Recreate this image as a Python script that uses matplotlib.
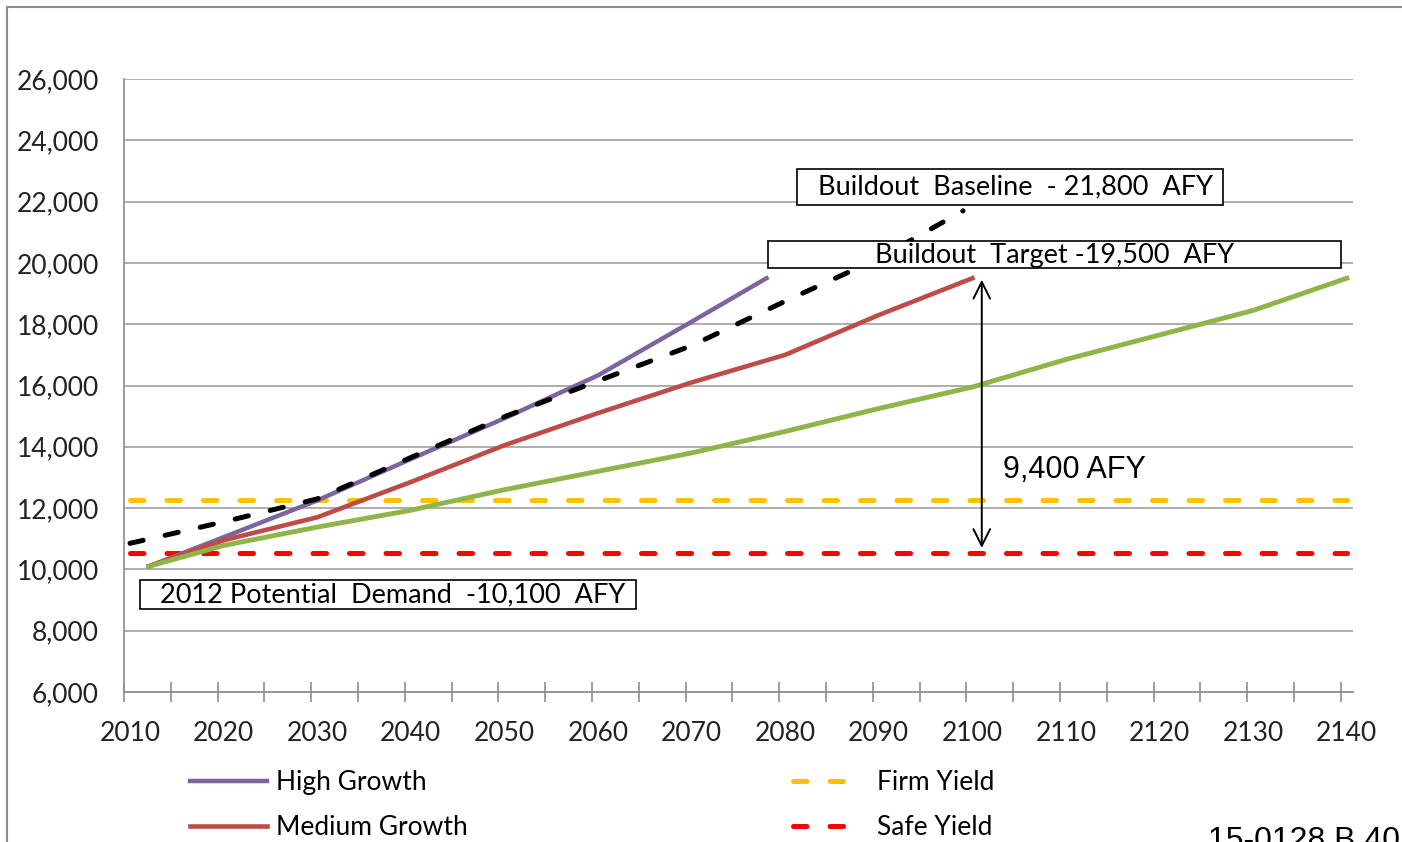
import numpy as np
import matplotlib
matplotlib.use("Agg")
import matplotlib.pyplot as plt
from matplotlib.patches import Rectangle
from matplotlib.ticker import FixedLocator, FuncFormatter

plt.rcParams['font.family'] = ['Lato', 'DejaVu Sans']

# demand projections (AFY)
high_years = [2012, 2020, 2030, 2040, 2050, 2060, 2070, 2078]
high_vals = [10100, 11050, 12250, 13600, 14930, 16330, 18080, 19500]

med_years = [2012, 2020, 2030, 2040, 2050, 2060, 2070, 2080, 2090, 2100]
med_vals = [10100, 10950, 11700, 12850, 14050, 15100, 16100, 17000, 18300, 19500]

low_years = [2012, 2020, 2030, 2040, 2050, 2060, 2070, 2080, 2090, 2100,
             2110, 2120, 2130, 2140]
low_vals = [10100, 10780, 11380, 11930, 12600, 13200, 13800, 14500, 15250,
            15950, 16850, 17650, 18450, 19500]

base_years = [2010, 2020, 2030, 2040, 2050, 2060, 2070, 2080, 2090, 2099]
base_vals = [10850, 11550, 12300, 13650, 14980, 16150, 17300, 18750, 20150, 21700]

yield_years = [2010, 2140]
firm_yield = 12250
safe_yield = 10550

gap_year = 2101
gap_low, gap_high = 10700, 19450

x_min, x_max = 2009.36, 2140.66
y_min, y_max = 6000, 26000

fig = plt.figure(figsize=(14.02, 8.42), dpi=100)
ax = fig.add_axes([124/1402, 150/842, 1229/1402, 613/842])

ax.plot(high_years, high_vals, color='#7E649E', lw=3.2, zorder=3, label='High Growth')
ax.plot(med_years, med_vals, color='#BE4B48', lw=3.3, zorder=3, label='Medium Growth')
ax.plot(low_years, low_vals, color='#8FB447', lw=3.5, zorder=3, label='Low Growth')
ax.plot(base_years, base_vals, color='black', lw=3.6, zorder=3,
        dashes=(2.7, 4.5), dash_capstyle='round', label='Buildout Baseline')
ax.plot(yield_years, [firm_yield] * 2, color='#FFC000', lw=3.6, zorder=2,
        dashes=(2.7, 4.6), dash_capstyle='round', label='Firm Yield')
ax.plot(yield_years, [safe_yield] * 2, color='#FF0000', lw=3.6, zorder=2,
        dashes=(2.7, 4.6), dash_capstyle='round', label='Safe Yield')

ax.annotate('', xy=(gap_year, gap_high), xytext=(gap_year, gap_low),
            arrowprops=dict(arrowstyle='<->', color='black', lw=1.4,
                            mutation_scale=30, shrinkA=0, shrinkB=0), zorder=5)
ax.text(2103.3, 13240, '9,400 AFY', fontsize=22, family='Liberation Sans',
        va='center', ha='left', zorder=5)

# label boxes
boxes = [
    ((2081.26, 21889), 45.5, 1175, (2083.5, 22476), 'Buildout  Baseline  - 21,800  AFY'),
    ((2078.2, 19833), 61.2, 881, (2089.6, 20257), 'Buildout  Target -19,500  AFY'),
    ((2011.07, 8708), 53.0, 946, (2013.2, 9165), '2012 Potential  Demand  -10,100  AFY'),
]
for (bx, by), bw, bh, (tx, ty), txt in boxes:
    ax.add_patch(Rectangle((bx, by), bw, bh, facecolor='white', edgecolor='black',
                           lw=1.2, zorder=4, clip_on=False))
    ax.text(tx, ty, txt, fontsize=19.5, va='center', ha='left', zorder=5)

ax.set_xlim(x_min, x_max)
ax.set_ylim(y_min, y_max)
ax.set_yticks(np.arange(6000, 26001, 2000))
ax.yaxis.set_major_formatter(FuncFormatter(lambda v, p: f'{int(v):,}'))
ax.set_xticks(np.arange(2010, 2141, 10))
ax.xaxis.set_minor_locator(FixedLocator(np.arange(x_min, x_max, 5)))
ax.tick_params(axis='both', which='major', length=0, labelsize=19, colors='#222222')
ax.tick_params(axis='y', pad=18)
ax.tick_params(axis='x', pad=21)
ax.tick_params(axis='x', which='minor', direction='inout', length=15, width=1.2,
               color='#8C8C8C')
ax.grid(axis='y', color='#A0A0A0', lw=1.2, zorder=0)
ax.set_axisbelow(True)
for s in ['top', 'right']:
    ax.spines[s].set_visible(False)
for s in ['left', 'bottom']:
    ax.spines[s].set_color('#8C8C8C')
    ax.spines[s].set_linewidth(1.2)

h, l = ax.get_legend_handles_labels()
leg_kw = dict(loc='upper left', frameon=False, fontsize=19, labelspacing=0.77,
              borderpad=0, borderaxespad=0)
fig.legend([h[0], h[1]], [l[0], l[1]], bbox_to_anchor=(190/1402, 1 - 770/842),
           handlelength=2.9, handletextpad=0.35, **leg_kw)
fig.legend([h[4], h[5]], [l[4], l[5]], bbox_to_anchor=(793/1402, 1 - 770/842),
           handlelength=2.2, handletextpad=1.0, **leg_kw)

fig.add_artist(Rectangle((7/1402, -0.1), 1.2, 1.1 - 7/842, transform=fig.transFigure,
                         fill=False, edgecolor='#8C8C8C', lw=1.5))
fig.text(1208/1402, 1 - 826/842, '15-0128 B 40', fontsize=23,
         family='Liberation Sans', va='top', ha='left')

fig.savefig('out.png', dpi=100)
